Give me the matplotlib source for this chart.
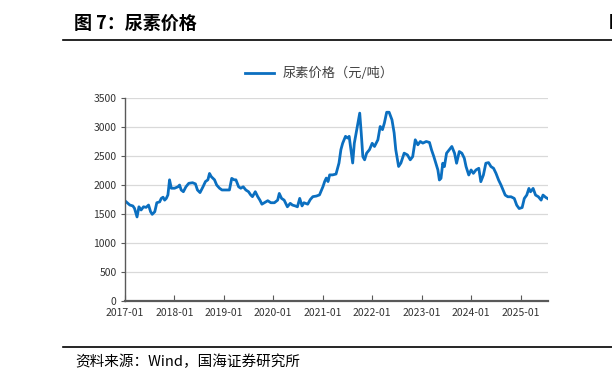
import matplotlib
matplotlib.use("Agg")
import matplotlib.pyplot as plt
import matplotlib.dates as mdates
import pandas as pd

plt.rcParams['font.family'] = ['Noto Sans CJK SC', 'DejaVu Sans']

# urea price (yuan/ton)
dates = [
    "2017-01-01", "2017-02-07", "2017-03-01", "2017-03-13", "2017-04-01", "2017-04-15",
    "2017-05-01", "2017-05-19", "2017-06-07", "2017-06-25", "2017-07-10", "2017-07-22",
    "2017-08-10", "2017-08-25", "2017-09-15", "2017-09-27", "2017-10-10", "2017-10-22",
    "2017-11-03", "2017-11-15", "2017-11-27", "2017-12-10", "2018-01-03", "2018-01-28",
    "2018-02-09", "2018-02-21", "2018-03-09", "2018-03-28", "2018-04-18", "2018-05-16",
    "2018-06-06", "2018-06-21", "2018-07-10", "2018-08-01", "2018-08-19", "2018-09-06",
    "2018-09-18", "2018-10-01", "2018-10-25", "2018-11-10", "2018-12-01", "2018-12-19",
    "2019-01-19", "2019-02-12", "2019-03-01", "2019-03-19", "2019-04-01", "2019-04-21",
    "2019-05-07", "2019-05-25", "2019-06-13", "2019-07-03", "2019-07-19", "2019-08-01",
    "2019-08-22", "2019-09-09", "2019-09-25", "2019-10-10", "2019-10-28", "2019-11-22",
    "2019-12-15", "2020-01-10", "2020-02-03", "2020-02-15", "2020-03-03", "2020-03-22",
    "2020-04-15", "2020-05-06", "2020-05-22", "2020-06-12", "2020-06-28", "2020-07-15",
    "2020-08-01", "2020-08-15", "2020-09-12", "2020-10-01", "2020-10-20", "2020-11-15",
    "2020-12-08", "2021-01-03", "2021-01-15", "2021-01-27", "2021-02-09", "2021-02-21",
    "2021-03-15", "2021-04-09", "2021-05-01", "2021-05-15", "2021-05-28", "2021-06-18",
    "2021-07-03", "2021-07-15", "2021-07-28", "2021-08-10", "2021-08-22", "2021-09-09",
    "2021-10-01", "2021-10-12", "2021-10-24", "2021-11-06", "2021-11-21", "2021-12-12",
    "2022-01-01", "2022-01-18", "2022-02-12", "2022-03-01", "2022-03-18", "2022-04-01",
    "2022-04-18", "2022-05-06", "2022-05-27", "2022-06-12", "2022-06-24", "2022-07-15",
    "2022-08-01", "2022-08-25", "2022-09-18", "2022-10-09", "2022-10-27", "2022-11-15",
    "2022-12-04", "2022-12-22", "2023-01-10", "2023-02-04", "2023-02-28", "2023-03-15",
    "2023-04-01", "2023-04-16", "2023-05-01", "2023-05-12", "2023-05-24", "2023-06-06",
    "2023-06-18", "2023-07-04", "2023-07-24", "2023-08-12", "2023-09-01", "2023-09-16",
    "2023-10-06", "2023-10-25", "2023-11-12", "2023-11-25", "2023-12-15", "2024-01-01",
    "2024-01-18", "2024-02-06", "2024-02-27", "2024-03-13", "2024-04-01", "2024-04-19",
    "2024-05-09", "2024-05-27", "2024-06-15", "2024-07-03", "2024-07-22", "2024-08-09",
    "2024-08-25", "2024-09-09", "2024-09-28", "2024-10-22", "2024-11-15", "2024-12-03",
    "2024-12-21", "2025-01-12", "2025-01-28", "2025-02-15", "2025-03-03", "2025-03-15",
    "2025-04-03", "2025-04-21", "2025-05-12", "2025-06-01", "2025-06-15", "2025-07-06",
    "2025-07-18",
]
prices = [
    1730, 1655, 1640, 1600, 1450, 1625,
    1570, 1625, 1615, 1655, 1540, 1495,
    1540, 1695, 1710, 1770, 1790, 1740,
    1770, 1830, 2090, 1945, 1945, 1970,
    2000, 1915, 1885, 1970, 2030, 2040,
    2020, 1915, 1870, 1970, 2060, 2090,
    2200, 2145, 2090, 2000, 1945, 1915,
    1915, 1915, 2115, 2090, 2090, 1970,
    1945, 1970, 1915, 1885, 1830, 1800,
    1885, 1800, 1740, 1670, 1695, 1730,
    1695, 1695, 1740, 1855, 1770, 1740,
    1625, 1685, 1655, 1640, 1625, 1770,
    1640, 1695, 1670, 1750, 1800, 1810,
    1830, 1975, 2060, 2120, 2060, 2175,
    2175, 2190, 2380, 2610, 2720, 2840,
    2810, 2840, 2610, 2380, 2720, 2955,
    3240, 2900, 2490, 2435, 2550, 2610,
    2720, 2665, 2780, 3010, 2955, 3070,
    3255, 3255, 3125, 2900, 2610, 2320,
    2380, 2550, 2520, 2435, 2490, 2780,
    2694, 2751, 2723, 2751, 2734, 2607,
    2491, 2376, 2260, 2087, 2116, 2376,
    2318, 2549, 2607, 2665, 2549, 2376,
    2578, 2549, 2462, 2318, 2173, 2260,
    2202, 2260, 2289, 2058, 2173, 2376,
    2387, 2318, 2289, 2202, 2087, 2000,
    1913, 1827, 1798, 1798, 1769, 1653,
    1595, 1612, 1769, 1827, 1942, 1884,
    1942, 1827, 1798, 1740, 1827, 1786,
    1769,
]
series_name = "尿素价格（元/吨）"
y_ticks = [0, 500, 1000, 1500, 2000, 2500, 3000, 3500]

x = pd.to_datetime(dates)

fig = plt.figure(figsize=(6.12, 3.83), dpi=100)
ax = fig.add_axes([0.204, 0.214, 0.691, 0.530])

ax.plot(x, prices, color="#0b6fc0", lw=2.0, label=series_name)

ax.set_ylim(0, 3500)
ax.set_yticks(y_ticks)
ax.set_xlim(pd.Timestamp("2017-01-01"), pd.Timestamp("2025-07-20"))
ax.xaxis.set_major_locator(mdates.YearLocator())
ax.xaxis.set_major_formatter(mdates.DateFormatter("%Y-%m"))

ax.grid(axis="y", color="#d9d9d9", lw=0.9)
ax.set_axisbelow(True)
for s in ["top", "right"]:
    ax.spines[s].set_visible(False)
ax.spines["left"].set_color("#595959")
ax.spines["left"].set_linewidth(1.0)
ax.spines["bottom"].set_color("#595959")
ax.spines["bottom"].set_linewidth(1.6)
ax.tick_params(axis="x", direction="in", length=4, color="#595959",
               labelsize=7.5, labelcolor="#333333", pad=5)
ax.tick_params(axis="y", direction="out", length=3, color="#595959",
               labelsize=7.5, labelcolor="#333333", pad=3)

ax.legend(loc="center", bbox_to_anchor=(0.46, 1.12), frameon=False,
          fontsize=9.5, handlelength=2.2, handletextpad=0.6, labelcolor="#404040")

# header / footer like the research report
fig.text(0.121, 0.94, "图 7：尿素价格", fontsize=13, fontweight="bold",
         va="center", ha="left")
fig.text(0.995, 0.94, "图", fontsize=12, fontweight="bold", va="center", ha="left")
fig.add_artist(plt.Line2D([0.103, 1.0], [0.895, 0.895], color="black", lw=1.2))
fig.add_artist(plt.Line2D([0.103, 1.0], [0.094, 0.094], color="black", lw=1.2))
fig.text(0.123, 0.055, "资料来源：Wind，国海证券研究所", fontsize=10.5,
         va="center", ha="left")

fig.savefig("out.png", dpi=100)
